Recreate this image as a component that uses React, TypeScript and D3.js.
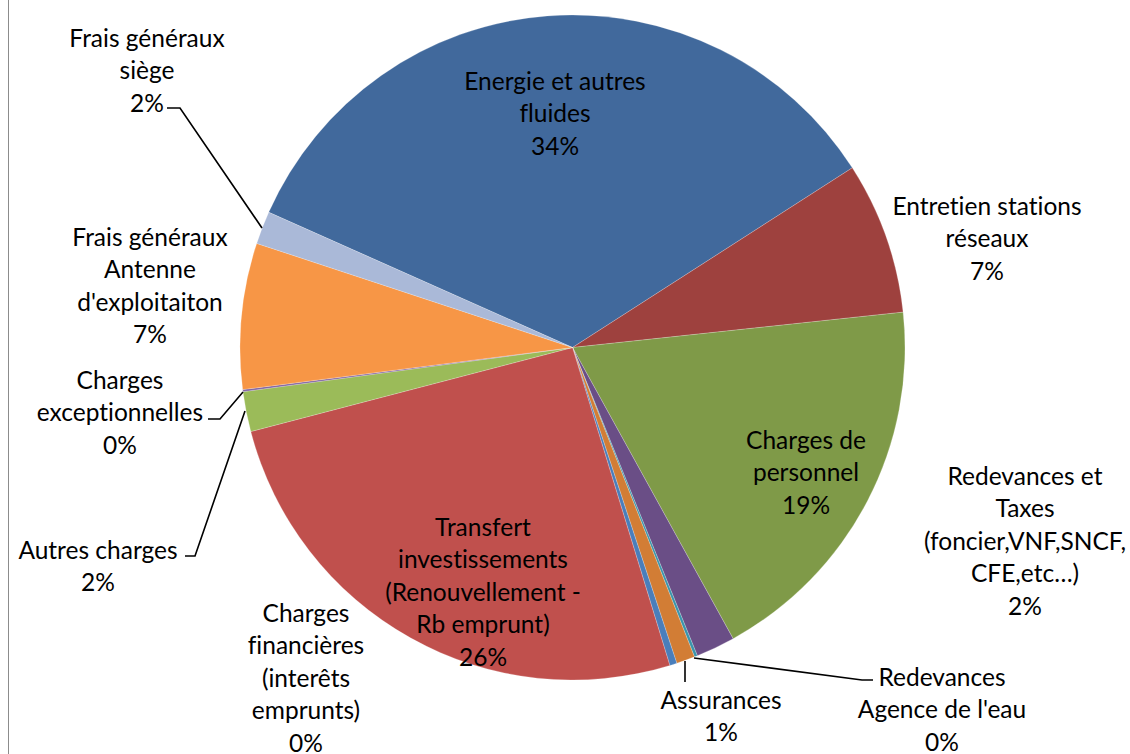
import React from "react";
import * as d3 from "d3";

const categories = [
  "Energie et autres\nfluides",
  "Entretien stations\nréseaux",
  "Charges de\npersonnel",
  "Redevances et\nTaxes\n(foncier,VNF,SNCF,\nCFE,etc…)",
  "Redevances\nAgence de l'eau",
  "Assurances",
  "Charges\nfinancières\n(interêts\nemprunts)",
  "Transfert\ninvestissements\n(Renouvellement -\nRb emprunt)",
  "Autres charges",
  "Charges\nexceptionnelles",
  "Frais généraux\nAntenne\nd'exploitaiton",
  "Frais généraux\nsiège",
];
const values = [34.3, 7.4, 18.7, 1.9, 0.15, 0.9, 0.35, 25.7, 1.95, 0.1, 7.1, 1.6];
const colors = [
  "#41699C", "#9E413E", "#7F9A48", "#6A4E86", "#3A95AC", "#D27D35",
  "#4A7EBB", "#C0504D", "#9BBB59", "#8064A2", "#F79646", "#AAB9D8",
];

// layout: label centers (x, first-line center y)
const labelPos: [number, number][] = [
  [555, 80], [987, 205], [806, 439], [1025, 475], [942, 676], [721, 699],
  [306, 612], [483, 526], [98, 549], [120, 379], [150, 236], [147, 37],
];
const leaders: ([number, number][] | null)[] = [
  null, null, null, null,
  [[694, 658], [862, 680], [873, 680]],
  [[685, 661], [685, 682]],
  null, null,
  [[245, 411], [195, 556], [185, 556]],
  [[243, 392], [220, 419], [208, 419]],
  null,
  [[262, 228], [180, 108], [167, 108]],
];

const W = 1130, H = 754;
const cx = 572.5, cy = 347.5, R = 332.5;
const startDeg = -66;
const lineH = 32.6;
const font = "Lato, 'Open Sans', sans-serif";

export default function App() {
  const total = d3.sum(values);
  const pie = d3
    .pie<number>()
    .sort(null)
    .startAngle((startDeg * Math.PI) / 180)
    .endAngle((startDeg * Math.PI) / 180 + 2 * Math.PI)
    .value((d) => d);
  const arcs = pie(values);
  const arc = d3.arc<d3.PieArcDatum<number>>().innerRadius(0).outerRadius(R);
  const pct = (v: number) => `${Math.round((v / total) * 100)}%`;

  return (
    <svg
      width={W}
      height={H}
      style={{ position: "absolute", left: 0, top: 0, background: "#fff" }}
    >
      <line x1={8.5} y1={0} x2={8.5} y2={H} stroke="#8c8c8c" strokeWidth={1} />
      <g transform={`translate(${cx},${cy})`}>
        {arcs.map((a, i) => (
          <path
            key={i}
            d={arc(a) || ""}
            fill={colors[i]}
            stroke="#ffffff"
            strokeOpacity={0.35}
            strokeWidth={0.6}
          />
        ))}
      </g>
      {leaders.map((pts, i) =>
        pts ? (
          <path
            key={"l" + i}
            d={d3.line()(pts) || ""}
            fill="none"
            stroke="#000"
            strokeWidth={1.6}
          />
        ) : null
      )}
      {categories.map((c, i) => {
        const lines = [...c.split("\n"), pct(values[i])];
        const [x, y] = labelPos[i];
        return (
          <text
            key={"t" + i}
            x={x}
            textAnchor="middle"
            fontFamily={font}
            fontSize={24.5}
            fill="#000"
            style={{ fontVariantLigatures: "none" }}
          >
            {lines.map((ln, j) => (
              <tspan key={j} x={x} y={y + j * lineH} dominantBaseline="central">
                {ln}
              </tspan>
            ))}
          </text>
        );
      })}
    </svg>
  );
}
